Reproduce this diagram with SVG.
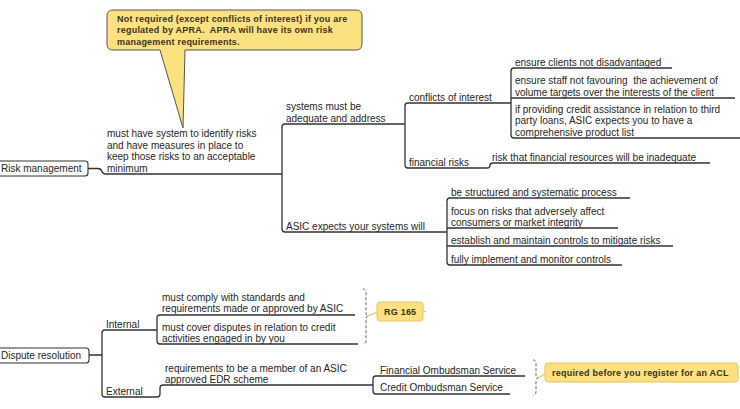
<svg xmlns="http://www.w3.org/2000/svg" width="740" height="409" viewBox="0 0 740 409">
<style>
text{white-space:pre}
.t{font-family:"Liberation Sans",Arial,sans-serif;font-size:10px;fill:#262626}
.b{font-family:"Liberation Sans",Arial,sans-serif;font-size:9px;font-weight:bold;fill:#3a3320;letter-spacing:0.22px}
.ln{fill:none;stroke:#333;stroke-width:1.3}
.box{fill:#fff;stroke:#333;stroke-width:1.1}
.note{fill:#fde07f;stroke:#e8c25a;stroke-width:1}
.brace{fill:none;stroke:#555;stroke-width:0.9;stroke-dasharray:3 2}
.yl{fill:none;stroke:#e8c25a;stroke-width:1.1}
</style>
<rect width="740" height="409" fill="#fff"/>
<g id="connectors">
<path class="ln" d="M88,168.5 H98 Q101,168.5 102,171.5 Q103,174 106,174 H282"/>
<path class="ln" d="M405,124 H285 Q282,124 282,127 V229 Q282,232 285,232 H447"/>
<path class="ln" d="M511,103 H408 Q405,103 405,106 V165 Q405,168 408,168 H487 Q490,168 490,165.5 Q490,163 493,163 H710"/>
<path class="ln" d="M672,68 H514 Q511,68 511,71 V135 Q511,138 514,138 H740 M511,98 H735"/>
<path class="ln" d="M630,198 H450 Q447,198 447,201 V262 Q447,265 450,265 H622 M447,228 H618 M447,246 H673"/>
<path class="ln" d="M89,355 H102 M157,330 H105 Q102,330 102,333 V394 Q102,397 105,397 H157 Q160,397 160,394 V388 Q160,385 163,385 H373"/>
<path class="ln" d="M355,315 H160 Q157,315 157,318 V341 Q157,344 160,344 H358"/>
<path class="ln" d="M525,376 H376 Q373,376 373,379 V391 Q373,394 376,394 H510"/>
<path class="brace" d="M363,289 Q366,289 366,292 V313 Q366,316 368,316 Q366,316 366,319 V341 Q366,344 363,344"/>
<path class="brace" d="M533,360 Q536,360 536,363 V375 Q536,378 538,378 Q536,378 536,381 V392 Q536,395 533,395"/>
<path class="yl" d="M368,316 L377,312 M423,311.5 H426"/>
<path class="yl" d="M538,378 L545,374"/>
</g>
<g id="callout">
<path d="M113,10 H356 Q362,10 362,16 V44 Q362,50 356,50 H185 L183,128 L160,50 H113 Q107,50 107,44 V16 Q107,10 113,10 Z" fill="#fde07f" stroke="#555" stroke-width="1"/>
<text class="b" x="117" y="22">Not required (except conflicts of interest) if you are</text>
<text class="b" x="117" y="33.3">regulated by APRA.  APRA will have its own risk</text>
<text class="b" x="117" y="44.6">management requirements.</text>
</g>
<g id="risk-management">
<rect class="box" x="-3" y="161" width="91" height="15" rx="3"/>
<text class="t" x="1" y="172">Risk management</text>
</g>
<g id="must-have-system">
<text class="t" x="107" y="137"><tspan x="107">must have system to identify risks</tspan><tspan x="107" dy="11.5">and have measures in place to</tspan><tspan x="107" dy="11.5">keep those risks to an acceptable</tspan><tspan x="107" dy="11.5">minimum</tspan></text>
</g>
<g id="systems-adequate">
<text class="t" x="286" y="110"><tspan x="286">systems must be</tspan><tspan x="286" dy="11.5">adequate and address</tspan></text>
</g>
<g id="asic-expects">
<text class="t" x="286" y="229.5">ASIC expects your systems will</text>
</g>
<g id="conflicts">
<text class="t" x="409" y="100.5">conflicts of interest</text>
</g>
<g id="financial-risks">
<text class="t" x="409" y="165.5">financial risks</text>
</g>
<g id="risk-financial-resources">
<text class="t" x="492" y="160.5">risk that financial resources will be inadequate</text>
</g>
<g id="ensure-clients">
<text class="t" x="515" y="65.5">ensure clients not disadvantaged</text>
</g>
<g id="ensure-staff">
<text class="t" x="515" y="84"><tspan x="515">ensure staff not favouring  the achievement of</tspan><tspan x="515" dy="11.5">volume targets over the interests of the client</tspan></text>
</g>
<g id="third-party">
<text class="t" x="515" y="112.5"><tspan x="515">if providing credit assistance in relation to third</tspan><tspan x="515" dy="11.5">party loans, ASIC expects you to have a</tspan><tspan x="515" dy="11.5">comprehensive product list</tspan></text>
</g>
<g id="structured">
<text class="t" x="451" y="195.5">be structured and systematic process</text>
</g>
<g id="focus">
<text class="t" x="451" y="214.5"><tspan x="451">focus on risks that adversely affect</tspan><tspan x="451" dy="11.5">consumers or market integrity</tspan></text>
</g>
<g id="establish">
<text class="t" x="451" y="243.5">establish and maintain controls to mitigate risks</text>
</g>
<g id="fully">
<text class="t" x="451" y="262.5">fully implement and monitor controls</text>
</g>
<g id="dispute-resolution">
<rect class="box" x="-3" y="348" width="92" height="15" rx="3"/>
<text class="t" x="1" y="359">Dispute resolution</text>
</g>
<g id="internal">
<text class="t" x="106" y="327.5">Internal</text>
</g>
<g id="external">
<text class="t" x="106" y="394.5">External</text>
</g>
<g id="comply">
<text class="t" x="162" y="301"><tspan x="162">must comply with standards and</tspan><tspan x="162" dy="11">requirements made or approved by ASIC</tspan></text>
</g>
<g id="cover">
<text class="t" x="162" y="330.5"><tspan x="162">must cover disputes in relation to credit</tspan><tspan x="162" dy="11">activities engaged in by you</tspan></text>
</g>
<g id="edr">
<text class="t" x="165" y="371.5"><tspan x="165">requirements to be a member of an ASIC</tspan><tspan x="165" dy="11">approved EDR scheme</tspan></text>
</g>
<g id="fos">
<text class="t" x="380" y="374">Financial Ombudsman Service</text>
</g>
<g id="cos">
<text class="t" x="380" y="391">Credit Ombudsman Service</text>
</g>
<g id="rg165">
<rect class="note" x="377" y="302" width="46" height="19" rx="3"/>
<text class="b" x="384" y="315">RG 165</text>
</g>
<g id="acl">
<rect class="note" x="545" y="363" width="193" height="19" rx="3"/>
<text class="b" x="552" y="376">required before you register for an ACL</text>
</g>
</svg>
